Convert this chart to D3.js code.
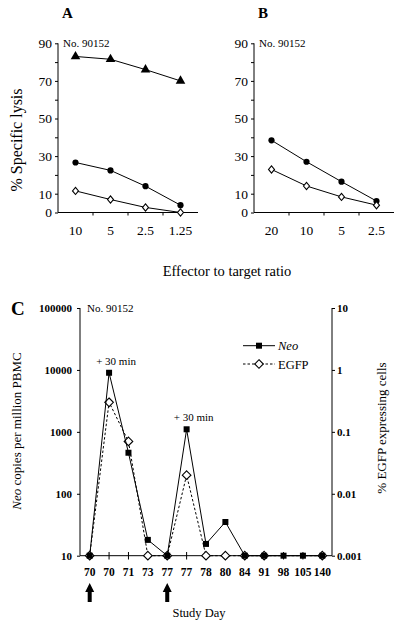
<!DOCTYPE html>
<html><head><meta charset="utf-8">
<script src="https://cdn.jsdelivr.net/npm/d3@7"></script>
<style>
body{margin:0;background:#fff}
svg{display:block;font-family:"Liberation Serif","Times New Roman",serif}
</style>
</head><body>
<svg id="c" width="400" height="622"></svg>
<script>
// ---- data ----
const ratiosA = ["10","5","2.5","1.25"];
const ratiosB = ["20","10","5","2.5"];
const lysisLabels = [0,10,30,50,70,90];
const aTriangle = [83,81.5,76,70];
const aCircle = [26.6,22.4,14,3.9];
const aDiamond = [11.5,6.9,2.7,0];
const bCircle = [38.4,27,16.4,6.1];
const bDiamond = [22.9,14.1,8.3,3.9];
const studyDays = ["70","70","71","73","77","77","78","80","84","91","98","105","140"];
const neoCopies = [10,9000,460,18,10,1100,15.5,35,10,10,10,10,10];
const egfpPct = [0.001,0.3,0.07,0.001,0.001,0.02,0.001,0.001,0.001,0.001,null,null,0.001];
const neoTicks = [10,100,1000,10000,100000];
const egfpTicks = [0.001,0.01,0.1,1,10];
const injectionIdx = [0,4];
const boostIdx = [1,5];

const svg = d3.select("#c");
const diamondPath = (rx, ry) => `M0,${-ry}L${rx},0L0,${ry}L${-rx},0Z`;
const tri = d3.symbol().type(d3.symbolTriangle);

function lysisPanel(x0, cats, series, letter){
  const x = d3.scaleBand().domain(cats).range([x0, x0+140]);
  const y = d3.scaleLinear().domain([0,90]).range([212.5, 43.3]);
  const g = svg.append("g");
  const ya = g.append("g").attr("transform",`translate(${x0},0)`)
    .call(d3.axisLeft(y).tickValues(d3.range(0,91,10)).tickSize(3).tickSizeOuter(0).tickPadding(3)
      .tickFormat(d => lysisLabels.includes(d) ? d : ""));
  ya.select(".domain").remove();
  ya.selectAll("text").attr("font-size",13.5).attr("font-family","Liberation Serif");
  g.append("line").attr("x1",x0).attr("x2",x0).attr("y1",y(90)).attr("y2",y(0)).attr("stroke","#000");
  const xa = g.append("g").attr("transform",`translate(0,${y(0)})`)
    .call(d3.axisBottom(x).tickSize(0).tickPadding(13));
  xa.select(".domain").remove();
  xa.selectAll("text").attr("font-size",13.5).attr("font-family","Liberation Serif");
  g.append("line").attr("x1",x0).attr("x2",x0+140).attr("y1",y(0)).attr("y2",y(0)).attr("stroke","#000");
  g.selectAll(".bt").data(cats.slice(1)).join("line")
    .attr("x1",d=>x(d)).attr("x2",d=>x(d)).attr("y1",y(0)).attr("y2",y(0)+3).attr("stroke","#000");
  const cx = i => x(cats[i]) + x.bandwidth()/2;
  series.forEach(s => {
    const line = d3.line().x((d,i)=>cx(i)).y(d=>y(d));
    g.append("path").attr("d",line(s.values)).attr("fill","none").attr("stroke","#000").attr("stroke-width",1);
    s.values.forEach((v,i) => {
      const px = cx(i), py = y(v);
      if (s.shape==="tri") g.append("path").attr("d",tri.size(40)()).attr("transform",`translate(${px},${py})`).attr("fill","#000");
      else if (s.shape==="circle") g.append("circle").attr("cx",px).attr("cy",py).attr("r",3.1).attr("fill","#000");
      else g.append("path").attr("d",diamondPath(3,3.6)).attr("transform",`translate(${px},${py})`).attr("fill","#fff").attr("stroke","#000").attr("stroke-width",1.1);
    });
  });
  g.append("text").attr("x",x0+5).attr("y",47).attr("font-size",11).text("No. 90152");
  g.append("text").attr("x",x0+4).attr("y",18).attr("font-size",15).attr("font-weight","bold").text(letter);
}

lysisPanel(58, ratiosA, [
  {shape:"tri", values:aTriangle},
  {shape:"circle", values:aCircle},
  {shape:"diamond", values:aDiamond}
], "A");
lysisPanel(254, ratiosB, [
  {shape:"circle", values:bCircle},
  {shape:"diamond", values:bDiamond}
], "B");

svg.append("text").attr("transform","translate(22,140) rotate(-90)").attr("text-anchor","middle")
  .attr("font-size",16).text("% Specific lysis");
svg.append("text").attr("x",227).attr("y",276).attr("text-anchor","middle")
  .attr("font-size",14.5).text("Effector to target ratio");

// ---- Panel C ----
const xC = d3.scaleBand().domain(d3.range(studyDays.length)).range([80,332]);
const yL = d3.scaleLog().domain([10,100000]).range([555.7,308]);
const yR = d3.scaleLog().domain([0.001,10]).range([555.7,308]);
const cxC = i => xC(i) + xC.bandwidth()/2;
const gC = svg.append("g");

const la = gC.append("g").attr("transform","translate(80,0)")
  .call(d3.axisLeft(yL).tickValues(neoTicks).tickFormat(d3.format("d")).tickSize(3).tickSizeOuter(0).tickPadding(5));
la.select(".domain").remove();
la.selectAll("text").attr("font-size",11).attr("font-weight","bold").attr("font-family","Liberation Serif");
gC.append("line").attr("x1",80).attr("x2",80).attr("y1",308).attr("y2",555.7).attr("stroke","#000");

const ra = gC.append("g").attr("transform","translate(332,0)")
  .call(d3.axisRight(yR).tickValues(egfpTicks).tickFormat(d => String(d)).tickSize(3).tickSizeOuter(0).tickPadding(2));
ra.select(".domain").remove();
ra.selectAll("text").attr("font-size",11).attr("font-weight","bold").attr("font-family","Liberation Serif");
gC.append("line").attr("x1",332).attr("x2",332).attr("y1",308).attr("y2",555.7).attr("stroke","#000");

gC.append("line").attr("x1",80).attr("x2",332).attr("y1",555.7).attr("y2",555.7).attr("stroke","#000");
const xa = gC.append("g").attr("transform","translate(0,555.7)")
  .call(d3.axisBottom(xC).tickSize(0).tickPadding(12).tickFormat(i => studyDays[i]));
xa.select(".domain").remove();
xa.selectAll("text").attr("font-size",11.5).attr("font-weight","bold").attr("font-family","Liberation Serif");
gC.selectAll(".xt").data(d3.range(studyDays.length)).join("line")
  .attr("x1",cxC).attr("x2",cxC).attr("y1",552).attr("y2",559.5).attr("stroke","#000");

// EGFP (dashed) first
const egfpIdx = d3.range(egfpPct.length).filter(i => egfpPct[i] != null);
gC.append("path").attr("d", d3.line().x(i=>cxC(i)).y(i=>yR(egfpPct[i]))(egfpIdx))
  .attr("fill","none").attr("stroke","#000").attr("stroke-dasharray","2.5,2").attr("stroke-width",1);
egfpIdx.forEach(i => {
  gC.append("path").attr("d",diamondPath(4.3,4.3)).attr("transform",`translate(${cxC(i)},${yR(egfpPct[i])})`)
    .attr("fill","#fff").attr("stroke","#000").attr("stroke-width",1.1);
});
// Neo (solid) on top
gC.append("path").attr("d", d3.line().x((d,i)=>cxC(i)).y(d=>yL(d))(neoCopies))
  .attr("fill","none").attr("stroke","#000").attr("stroke-width",1);
neoCopies.forEach((v,i) => {
  gC.append("rect").attr("x",cxC(i)-3).attr("y",yL(v)-3).attr("width",6).attr("height",6).attr("fill","#000");
});

boostIdx.forEach(i => {
  gC.append("text").attr("x",cxC(i)+7).attr("y",yL(neoCopies[i])-8).attr("text-anchor","middle")
    .attr("font-size",11).text("+ 30 min");
});
gC.append("text").attr("x",87).attr("y",312).attr("font-size",11).text("No. 90152");
gC.append("text").attr("x",11).attr("y",315).attr("font-size",19).attr("font-weight","bold").text("C");

injectionIdx.forEach(i => {
  const x = cxC(i);
  gC.append("path").attr("d",`M${x},583 L${x+4.5},592 L${x+2},592 L${x+2},602 L${x-2},602 L${x-2},592 L${x-4.5},592 Z`).attr("fill","#000");
});

const lg = gC.append("g");
lg.append("line").attr("x1",243).attr("x2",275).attr("y1",345.7).attr("y2",345.7).attr("stroke","#000");
lg.append("rect").attr("x",256).attr("y",342.7).attr("width",6).attr("height",6).attr("fill","#000");
lg.append("text").attr("x",278).attr("y",350).attr("font-size",12.5).attr("font-style","italic").text("Neo");
lg.append("line").attr("x1",243).attr("x2",275).attr("y1",364).attr("y2",364).attr("stroke","#000").attr("stroke-dasharray","2.5,2");
lg.append("path").attr("d",diamondPath(4.3,4.3)).attr("transform","translate(259,364)").attr("fill","#fff").attr("stroke","#000").attr("stroke-width",1.1);
lg.append("text").attr("x",278).attr("y",368.5).attr("font-size",12.5).text("EGFP");

const yt = svg.append("text").attr("transform","translate(21,431) rotate(-90)").attr("text-anchor","middle").attr("font-size",13);
yt.append("tspan").attr("font-style","italic").text("Neo");
yt.append("tspan").text(" copies per million PBMC");
svg.append("text").attr("transform","translate(386,428) rotate(-90)").attr("text-anchor","middle")
  .attr("font-size",13).text("% EGFP expressing cells");
svg.append("text").attr("x",199).attr("y",617).attr("text-anchor","middle").attr("font-size",12.5).text("Study Day");
</script>
</body></html>
